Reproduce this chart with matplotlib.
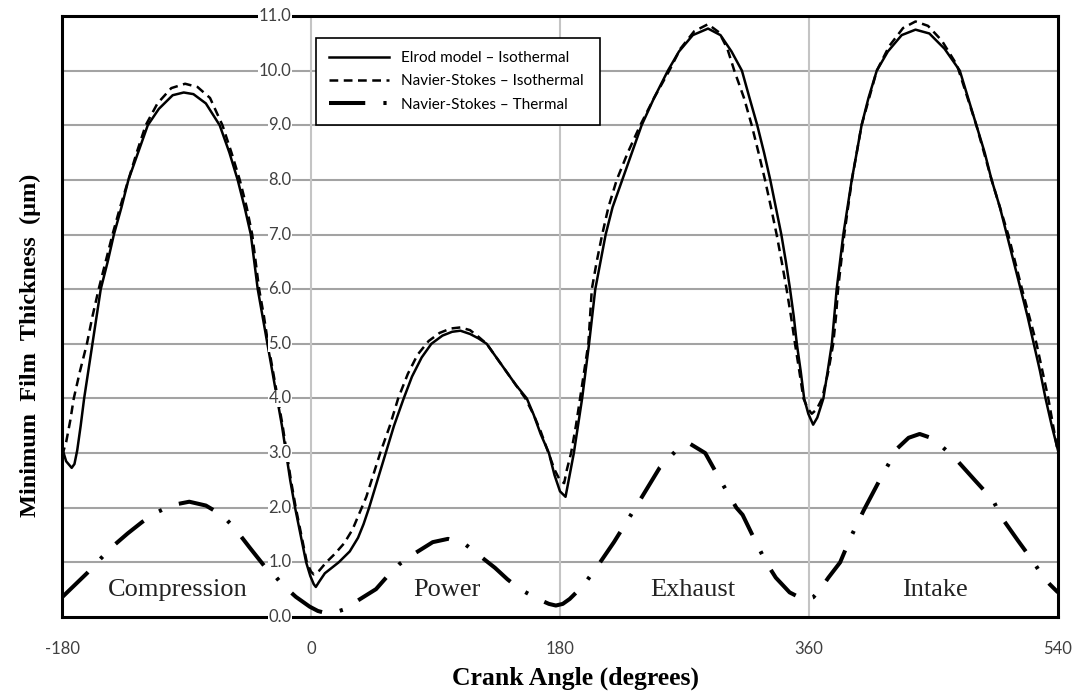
import matplotlib
matplotlib.use('Agg')
import matplotlib.pyplot as plt

# crank angle (deg) / minimum film thickness (um)
elrod_x = [-180, -177, -173, -171, -169, -166.5, -164, -161, -158, -155, -152, -147, -142.5,
           -137, -132, -125, -118, -110, -100, -92, -85, -76, -66, -59, -53, -48, -43.5,
           -41, -38.5, -35, -31.5, -28, -24.5, -21, -18, -15, -11.5, -7.5, -3.5, -0.5, 2, 3.5, 6,
           10, 15, 20, 28, 34, 38, 42, 48, 54, 60, 67, 73, 80, 87, 95, 102, 108, 115, 121,
           127, 134, 141, 148, 156, 161, 166, 172, 176, 180, 184, 187, 190, 196, 201, 205.5,
           213, 218, 225, 232, 239, 248, 258, 266, 276, 287, 296, 304, 311.5, 317, 322.6, 327.5,
           332, 336, 340, 343.3, 346.3, 349, 351.2, 354, 356.5, 359.5, 363, 366, 370.4,
           373.5, 376.5, 380, 384.8, 390.9, 394.5, 398, 403, 409, 417, 427, 437, 447, 458, 469, 475,
           481, 487, 492, 498, 503, 508, 513, 518, 522.5, 527, 531, 535.5, 540]
elrod_y = [3.10, 2.85, 2.73, 2.80, 3.05, 3.5, 4.0, 4.5, 5.0, 5.5, 6.0, 6.5, 7.0,
           7.5, 8.0, 8.5, 9.0, 9.3, 9.55, 9.6, 9.57, 9.4, 9.0, 8.5, 8.0, 7.5, 7.0,
           6.5, 6.0, 5.5, 5.0, 4.5, 4.0, 3.5, 3.0, 2.5, 2.0, 1.5, 1.0, 0.75, 0.6, 0.55, 0.65,
           0.8, 0.9, 1.0, 1.2, 1.45, 1.7, 2.0, 2.5, 3.0, 3.5, 4.0, 4.4, 4.75, 5.0, 5.15, 5.22, 5.24, 5.18, 5.1,
           5.0, 4.75, 4.5, 4.25, 4.0, 3.7, 3.35, 3.0, 2.6, 2.3, 2.2, 2.6, 3.0, 4.0, 5.0, 6.0,
           7.0, 7.5, 8.0, 8.5, 9.0, 9.5, 10.0, 10.35, 10.65, 10.77, 10.65, 10.35, 10.0, 9.5, 9.0, 8.5,
           8.0, 7.5, 7.0, 6.5, 6.0, 5.5, 5.0, 4.5, 4.0, 3.72, 3.52, 3.65, 4.0,
           4.5, 5.0, 6.0, 7.0, 8.0, 8.5, 9.0, 9.5, 10.0, 10.35, 10.65, 10.75, 10.68, 10.4, 10.0, 9.5,
           9.0, 8.5, 8.0, 7.5, 7.0, 6.5, 6.0, 5.5, 5.0, 4.5, 4.0, 3.5, 3.05]

ns_iso_x = [-180, -177, -174, -171.5, -167, -162, -158, -153.5, -148.5, -143.5, -138, -132,
            -126, -119.5, -111, -101, -91, -82, -73, -64, -57.5, -51.5, -46.5, -42.5, -40,
            -37.5, -34, -31, -27.5, -24, -20.5, -17.5, -14.5, -11, -7, -3, 0, 2, 6, 11,
            17, 24, 30, 35, 40, 45, 50, 57, 63, 70, 77, 85, 93, 101, 108, 115, 121, 127, 134,
            141, 148, 155, 161, 166, 171, 176, 180, 183, 185, 188, 191.5, 194.5, 197.5, 200.5,
            203, 206.5, 210.5, 215, 221, 229, 238, 248, 259, 267, 277, 287, 295, 301, 306,
            313, 318.6, 323.5, 328.2, 332.5, 336.6, 340.3, 343.8, 347, 349.9, 353, 356, 359, 362,
            365.5, 369.5, 374, 377.5, 379.5, 381, 385.5, 391, 398, 409, 418, 428, 437, 446, 456, 467,
            481, 492, 504, 514, 524.5, 533, 540]
ns_iso_y = [2.95, 3.2, 3.6, 4.0, 4.5, 5.0, 5.5, 6.0, 6.5, 7.0, 7.5, 8.0,
            8.5, 9.0, 9.4, 9.68, 9.76, 9.7, 9.5, 9.0, 8.5, 8.0, 7.5, 7.0, 6.5,
            6.0, 5.5, 5.0, 4.5, 4.0, 3.5, 3.0, 2.5, 2.0, 1.5, 1.0, 0.83, 0.78, 0.85, 1.0,
            1.15, 1.35, 1.6, 1.9, 2.2, 2.6, 3.0, 3.5, 4.0, 4.45, 4.8, 5.05, 5.2, 5.28, 5.3, 5.25, 5.13, 5.0, 4.75,
            4.5, 4.25, 4.0, 3.7, 3.4, 3.05, 2.7, 2.5, 2.45, 2.7, 3.0, 3.5, 4.0, 4.5, 5.0,
            6.0, 6.5, 7.0, 7.5, 8.0, 8.5, 9.0, 9.5, 10.0, 10.4, 10.72, 10.85, 10.7, 10.4, 10.0,
            9.5, 9.0, 8.5, 8.0, 7.5, 7.0, 6.5, 6.0, 5.5, 5.0, 4.5, 4.0, 3.82, 3.72,
            3.8, 4.0, 4.5, 5.0, 5.5, 6.0, 7.0, 8.0, 9.0, 10.0, 10.45, 10.78, 10.9, 10.82, 10.55, 10.1,
            9.0, 8.0, 7.0, 6.0, 5.0, 4.0, 3.0]

ns_th_x = [-180, -171, -162, -152, -143, -132.5, -122, -112, -100, -88, -76, -64, -55, -44,
           -33, -29.5, -21, -11, -1, 5, 11, 18, 24, 35, 47, 55, 64, 76, 88, 99, 111, 122, 133,
           142, 151, 164, 172, 177, 182, 187, 197, 209, 219, 234.5, 252, 263, 274, 285, 296,
           307.5, 312, 321, 329, 336, 346, 353, 358, 363, 368, 374, 382.5, 390, 399.5, 412,
           424, 432, 440, 448, 457, 466.5, 480, 493, 499, 511, 522.5, 528.5, 534, 540]
ns_th_y = [0.36, 0.58, 0.80, 1.07, 1.30, 1.53, 1.74, 1.91, 2.05, 2.11, 2.04, 1.86, 1.62, 1.26,
           0.91, 0.86, 0.60, 0.37, 0.19, 0.11, 0.07, 0.09, 0.14, 0.32, 0.51, 0.74, 0.97, 1.18, 1.37, 1.43, 1.34, 1.12, 0.90,
           0.69, 0.51, 0.33, 0.24, 0.21, 0.24, 0.33, 0.58, 1.0, 1.37, 2.0, 2.73, 3.02, 3.17, 3.0, 2.5,
           2.0, 1.87, 1.4, 1.0, 0.72, 0.45, 0.36, 0.32, 0.36, 0.5, 0.72, 1.0, 1.45, 1.95, 2.55,
           3.09, 3.28, 3.35, 3.28, 3.1, 2.88, 2.5, 2.14, 1.83, 1.4, 1.0, 0.76, 0.6, 0.45]

legend_labels = ['Elrod model \u2013 Isothermal', 'Navier-Stokes \u2013 Isothermal',
                 'Navier-Stokes \u2013 Thermal']
x_ticks = [-180, 0, 180, 360, 540]
y_ticks = [0.0, 1.0, 2.0, 3.0, 4.0, 5.0, 6.0, 7.0, 8.0, 9.0, 10.0, 11.0]
strokes = ['Compression', 'Power', 'Exhaust', 'Intake']
stroke_x = [-96, 98, 276, 451]

fig = plt.figure(figsize=(10.75, 6.92), dpi=100)
ax = fig.add_axes([62/1075, 75/692, 996/1075, 601/692])

# grid
for v in y_ticks[1:-1]:
    ax.axhline(v, color='#a3a3a3', lw=1.5, zorder=0)
for v in x_ticks[1:-1]:
    ax.axvline(v, color='#c4c4c4', lw=1.5, zorder=0)

ax.plot(elrod_x, elrod_y, color='black', lw=1.8, label=legend_labels[0], zorder=3)
ax.plot(ns_iso_x, ns_iso_y, color='black', lw=1.8, ls=(0, (3.5, 2.2)),
        label=legend_labels[1], zorder=3)
ax.plot(ns_th_x, ns_th_y, color='black', lw=2.9, ls=(0, (9, 4.5, 0.8, 4.5)),
        label=legend_labels[2], zorder=3)

ax.set_xlim(-180, 540)
ax.set_ylim(0, 11)
ax.set_xticks(x_ticks)
ax.set_xticklabels([str(t) for t in x_ticks], fontfamily='Lato', fontsize=12, color='#404040')
ax.tick_params(axis='x', length=0, pad=17)
ax.set_yticks([])
for s in ax.spines.values():
    s.set_linewidth(2.2)
    s.set_color('black')

# y labels sit on the 0-degree line
for v in y_ticks:
    ax.text(-14, v, '%.1f' % v, ha='right', va='center', fontfamily='Lato', fontsize=12,
            color='#404040', zorder=6,
            bbox=dict(facecolor='white', edgecolor='none', pad=0.5))

for name, sx in zip(strokes, stroke_x):
    ax.text(sx, 0.5, name, ha='center', va='center', fontfamily='Liberation Serif',
            fontsize=19, color='#222222', zorder=4)

leg = ax.legend(loc='upper left', bbox_to_anchor=(0.255, 0.963, 0.285, 0.0), mode='expand',
                prop={'family': 'Lato', 'size': 11},
                frameon=True, fancybox=False, framealpha=1, edgecolor='black',
                handlelength=3.9, labelspacing=0.6, borderpad=0.85, handletextpad=0.8,
                borderaxespad=0)
leg.get_frame().set_linewidth(1.2)
leg.set_zorder(7)

fig.text(575/1075, 1 - 678/692, 'Crank Angle (degrees)', ha='center', va='center',
         fontfamily='Liberation Serif', fontweight='bold', fontsize=18.5)
fig.text(30/1075, 1 - 345/692, 'Minimum  Film  Thickness  (\u03bcm)', ha='center', va='center',
         rotation=90, fontfamily='Liberation Serif', fontweight='bold', fontsize=17.5)

fig.savefig('out.png', dpi=100)
